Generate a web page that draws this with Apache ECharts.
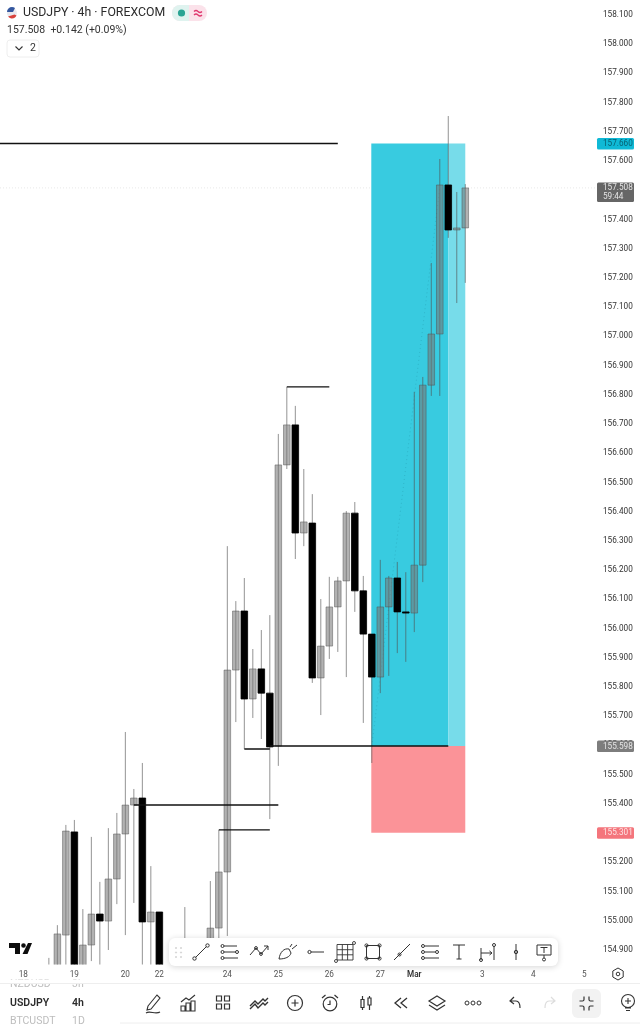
<!DOCTYPE html>
<html>
<head>
<meta charset="utf-8">
<style>html,body{margin:0;padding:0;background:#fff}#main{width:640px;height:1024px}</style>
<script src="https://cdn.jsdelivr.net/npm/echarts@6/dist/echarts.min.js"></script>
</head>
<body>
<div id="main"></div>
<script>
// date ticks, by slot on the time axis
var tickSlots = [3, 9, 15, 19, 27, 33, 39, 45, 49, 57, 63, 69]
var tickLabels = ['18', '19', '20', '22', '24', '25', '26', '27', 'Mar', '3', '4', '5']

// candles start at this slot, null = not visible in the picture
var firstSlot = 6
var opens = [154.70, 154.80, 154.951, 155.304, 154.80, 154.917, 155.023, 154.999, 155.143, 155.297, 155.396, 155.420, 154.996, 155.030, null, null, 154.60, null, null, 154.80, 154.975, 155.167, 155.858, 156.060, 155.759, 155.862, 155.779, 155.598, 156.560, 156.697, 156.327, 156.361, 155.831, 155.940, 156.074, 156.163, 156.395, 156.129, 155.981, 155.834, 156.074, 156.173, 156.057, 156.053, 156.217, 156.833, 157.008, 157.518, 157.364, 157.371]
var closes = [154.80, 154.955, 155.307, 154.80, 154.917, 155.023, 154.999, 155.143, 155.297, 155.396, 155.420, 154.996, 155.030, 154.70, null, null, 154.70, null, null, 154.975, 155.167, 155.858, 156.060, 155.759, 155.862, 155.779, 155.595, 156.560, 156.697, 156.327, 156.365, 155.831, 155.940, 156.074, 156.163, 156.395, 156.129, 155.981, 155.834, 156.074, 156.173, 156.057, 156.053, 156.217, 156.833, 157.008, 157.518, 157.364, 157.371, 157.508]
var highs = [154.873, 154.985, 155.328, 155.345, 155.040, 155.287, 155.133, 155.317, 155.369, 155.646, 155.451, 155.540, 155.187, 155.030, null, null, 155.047, null, null, 155.136, 155.311, 156.282, 156.094, 156.173, 155.930, 155.995, 156.046, 156.666, 156.827, 156.762, 156.546, 156.460, 156.101, 156.177, 156.177, 156.402, 156.433, 156.180, 155.981, 156.235, 156.180, 156.228, 156.193, 156.810, 156.861, 157.251, 157.607, 157.754, 157.494, 157.521]
var lows = [154.60, 154.70, 154.78, 154.70, 154.70, 154.862, 154.80, 154.900, 155.057, 154.951, 155.061, 154.70, 154.75, 154.60, null, null, 154.50, null, null, 154.70, 154.75, 154.948, 155.680, 155.588, 155.694, 155.622, 155.348, 155.530, 156.546, 156.238, 156.282, 155.814, 155.704, 155.896, 155.920, 155.834, 156.057, 155.677, 155.540, 155.779, 155.838, 155.916, 155.886, 155.988, 156.159, 156.796, 156.796, 157.337, 157.114, 157.183]

// horizontal levels drawn by hand on the chart
var levelPrices = [157.66, 156.827, 155.598, 155.588, 155.396, 155.311]
var levelFrom = [0, 34, 32, 29, 16, 26]
var levelTo = [40, 39, 53, 32, 33, 32]

// long position tool
var targetPrice = 157.66
var entryPrice = 155.598
var stopPrice = 155.301
var lastPrice = 157.508
var countdown = '59:44'
var boxSlots = [44, 53, 55]

var FONT = 'Roboto, "Noto Sans", sans-serif'
var candleData = []
opens.forEach(function (o, n) {
  if (o !== null) candleData.push([firstSlot + n, o, closes[n], highs[n], lows[n]])
})

function renderCandle(params, api) {
  var x = api.coord([api.value(0), 0])[0]
  var o = api.value(1), c = api.value(2)
  var top = api.coord([0, Math.max(o, c)])[1]
  var bot = api.coord([0, Math.min(o, c)])[1]
  var hi = api.coord([0, api.value(3)])[1]
  var lo = api.coord([0, api.value(4)])[1]
  // gray bodies are see-through over the box, black ones are not
  var bodyStyle = c >= o
    ? { fill: 'rgba(117,117,117,0.56)', stroke: 'rgba(80,80,80,0.6)', lineWidth: 0.8 }
    : { fill: '#000', stroke: '#000', lineWidth: 0.8 }
  return {
    type: 'group',
    children: [
      { type: 'line', shape: { x1: x, y1: hi, x2: x, y2: lo }, style: { stroke: 'rgba(80,80,80,0.62)', lineWidth: 1 } },
      { type: 'rect', shape: { x: x - 3.3, y: top, width: 6.6, height: Math.max(bot - top, 1) }, style: bodyStyle }
    ]
  }
}

function renderBox(params, api) {
  var x0 = api.coord([boxSlots[0], 0])[0] - 0.5
  var x1 = api.coord([boxSlots[1], 0])[0]
  var x2 = api.coord([boxSlots[2], 0])[0]
  var yT = api.coord([0, targetPrice])[1]
  var yE = api.coord([0, entryPrice])[1]
  var yS = api.coord([0, stopPrice])[1]
  return {
    type: 'group',
    children: [
      { type: 'rect', shape: { x: x0, y: yT, width: x1 - x0, height: yE - yT }, style: { fill: '#38cbe0' } },
      { type: 'rect', shape: { x: x1, y: yT, width: x2 - x1, height: yE - yT }, style: { fill: '#77dcea' } },
      { type: 'rect', shape: { x: x0, y: yE, width: x2 - x0, height: yS - yE }, style: { fill: '#fb9398' } }
    ]
  }
}

function renderLevel(params, api) {
  var a = api.coord([api.value(0), api.value(2)])
  var b = api.coord([api.value(1), api.value(2)])
  return { type: 'line', shape: { x1: a[0], y1: a[1], x2: b[0], y2: b[1] }, style: { stroke: '#111', lineWidth: 1.4 } }
}

// price tags sit right of the plot, on the axis
function tag(y, h, bg, color, txt, sub) {
  var kids = [{ type: 'rect', shape: { x: 597, y: y - 5.5, width: 37, height: h, r: 1.5 }, style: { fill: bg } }]
  kids.push({ type: 'text', style: { text: txt, x: 603, y: y + 0.5, fill: color, font: '8.2px ' + FONT, verticalAlign: 'middle' } })
  if (sub) kids.push({ type: 'text', style: { text: sub, x: 603, y: y + 9.5, fill: color, font: '8.2px ' + FONT, verticalAlign: 'middle' } })
  return { type: 'group', children: kids }
}
function renderTags(params, api) {
  var yOf = function (p) { return api.coord([0, p])[1] }
  return {
    type: 'group',
    children: [
      tag(yOf(targetPrice), 11.5, '#0fb9d6', '#085f70', targetPrice.toFixed(3)),
      tag(yOf(lastPrice), 19.5, '#666666', '#e4e4e4', lastPrice.toFixed(3), countdown),
      tag(yOf(entryPrice), 11.5, '#7d7d7d', '#e6e6e6', entryPrice.toFixed(3)),
      tag(yOf(stopPrice), 11.5, '#f4757c', '#fde3e4', stopPrice.toFixed(3))
    ]
  }
}

// ---- chrome around the chart ----
function circ(x, y, r) {
  return 'M' + (x - r) + ' ' + y + 'a' + r + ' ' + r + ' 0 1 0 ' + (2 * r) + ' 0a' + r + ' ' + r + ' 0 1 0 ' + (-2 * r) + ' 0'
}
function icon(cx, cy, d, color, width) {
  return { type: 'path', x: cx, y: cy, shape: { pathData: d }, style: { fill: 'none', stroke: color || '#333', lineWidth: width || 1 } }
}
function solid(d, color) {
  return { type: 'path', shape: { pathData: d }, style: { fill: color } }
}
function label(text, x, y, size, color, weight, align) {
  return { type: 'text', style: { text: text, x: x, y: y, fill: color, font: (weight || 'normal') + ' ' + size + 'px ' + FONT, verticalAlign: 'middle', align: align || 'left' } }
}
function box(x, y, w, h, r, fill, extra) {
  var style = { fill: fill }
  for (var k in extra) style[k] = extra[k]
  return { type: 'rect', shape: { x: x, y: y, width: w, height: h, r: r }, style: style }
}

var chrome = [
  // header
  { type: 'circle', shape: { cx: 12, cy: 13, r: 5 }, style: { fill: '#e9e9ef' } },
  solid('M7 12 a5 5 0 0 1 8 -4 l-2 4 z', '#34579f'),
  solid('M8 16.5 a5 5 0 0 0 8.5 -1 l-2 -1 z', '#d8423c'),
  label('USDJPY · 4h · FOREXCOM', 23, 13, 12.3, '#2b2b2b'),
  label('157.508  +0.142 (+0.09%)', 7, 30, 10.5, '#333'),
  box(172, 5, 35, 16, 8, '#fbe2ea'),
  solid('M180 5 h9 v16 h-9 a8 8 0 0 1 0 -16 z', '#dff3ef'),
  { type: 'circle', shape: { cx: 181.5, cy: 13, r: 3.6 }, style: { fill: '#2aa493' } },
  icon(198, 13, 'M-4 -1.5 q2 -2 4 0 t4 0 M-4 2 q2 -2 4 0 t4 0', '#e0386f', 1.3),
  box(7, 40, 32, 17, 3, '#fff', { stroke: '#eee', lineWidth: 1 }),
  icon(19, 48, 'M-3.5 -1.5 L0 2 L3.5 -1.5', '#333', 1.1),
  label('2', 30, 48.5, 10.5, '#333'),

  // TV logo
  solid('M9 943 H20 V954 H15 V948 H9 Z M28 943 H32 L27.5 954 H22.5 Z' + circ(23.5, 945.5, 2.3), '#0d0d0d'),

  // drawing toolbar
  box(169, 938, 389, 28, 6, '#fff', { shadowBlur: 6, shadowColor: 'rgba(0,0,0,0.16)', shadowOffsetY: 1 }),
  icon(176, 948, circ(0, 0, 0.6) + circ(5, 0, 0.6) + circ(0, 4.5, 0.6) + circ(5, 4.5, 0.6) + circ(0, 9, 0.6) + circ(5, 9, 0.6), '#ccc', 0.9),
  icon(201, 952, circ(-6.5, 6.5, 1.7) + circ(6.5, -6.5, 1.7) + 'M-5.3 5.3 L5.3 -5.3'),
  icon(229, 952, circ(-6.5, -6, 1.5) + 'M-5 -6 H8 ' + circ(-6.5, 0, 1.5) + circ(8, 0, 1.5) + 'M-5 0 H6.5 ' + circ(-6.5, 6, 1.5) + 'M-5 6 H9'),
  icon(259, 952, 'M-9 3 L-3 -4 L2 2 L9 -6 M5 -6 H9 V-2' + circ(-3, -4, 1.4) + circ(2, 2, 1.4)),
  icon(288, 952, 'M-9 7 C-8 0 -4 -4 1 -3 L3 1 C2 5 -3 7 -9 7 Z M4 -3 L9 -7 M2 -5 L4 -8'),
  icon(316, 952, circ(-6.5, 0, 1.6) + 'M-5 0 H8'),
  icon(344, 952, 'M-7 -7.5 H9 V8 H-7 Z M-1.7 -7.5 V8 M3.6 -7.5 V8 M-7 -2.3 H9 M-7 2.8 H9' + circ(10, -9, 1.5) + circ(-8, 9, 1.5), '#333', 0.9),
  icon(373, 952, 'M-6.5 -6.5 H6.5 V6.5 H-6.5 Z' + circ(-6.5, -6.5, 1.6) + circ(6.5, -6.5, 1.6) + circ(-6.5, 6.5, 1.6) + circ(6.5, 6.5, 1.6)),
  icon(402, 952, 'M-8 8 L8 -8' + circ(-2.5, 2.5, 1.5)),
  icon(430, 952, circ(-7, -6, 1.5) + 'M-5 -6 H9 ' + circ(-7, 0, 1.5) + circ(7, 0, 1.5) + 'M-5 0 H5 ' + circ(-7, 6, 1.5) + 'M-5 6 H9'),
  icon(459, 952, 'M-6 -7 H6 M0 -7 V7 M-2.5 7 H2.5', '#333', 1.1),
  icon(487, 952, 'M-6 -4 V8 M7 -6 V8 M-6 1 H5 M2.5 -1 L5 1 L2.5 3' + circ(7, -7, 1.5) + circ(-6, 8, 1.5)),
  icon(516, 952, 'M0 -8 V8' + circ(0, 0, 1.7)),
  icon(544, 952, 'M-7 -7 H7 V3 H-7 Z M-3.5 -4.5 H3.5 M0 -4.5 V1 M0 3 V6' + circ(0, 7.5, 1.5)),

  // axis settings
  icon(618, 974, 'M0 -6 L5.2 -3 V3 L0 6 L-5.2 3 V-3 Z' + circ(0, 0, 1.8)),

  // bottom bar
  label('NZDUSD', 10, 984.5, 10.5, '#bdbdbd'),
  label('3h', 72, 984.5, 10.5, '#bdbdbd'),
  box(0, 979.5, 120, 3.5, 0, '#fff'),
  { type: 'line', shape: { x1: 0, y1: 983.5, x2: 640, y2: 983.5 }, style: { stroke: '#eeeeee', lineWidth: 1 } },
  label('USDJPY', 10, 1003, 10.5, '#2b2b2b', '600'),
  label('4h', 72, 1003, 10.5, '#2b2b2b', '600'),
  label('BTCUSDT', 10, 1021.5, 10.5, '#bdbdbd'),
  label('1D', 72, 1021.5, 10.5, '#bdbdbd'),
  { type: 'line', shape: { x1: 120, y1: 1023, x2: 640, y2: 1023 }, style: { stroke: '#eeeeee', lineWidth: 1 } },
  icon(153, 1003, 'M-5 3 L4 -8 L7 -5 L-2 6 L-6 7 Z M-7 10 C-3 7 2 12 7 9', '#333', 1.1),
  icon(188, 1003, 'M-7 8 H-3 V3 H-7 Z M-2 8 H2 V0 H-2 Z M3 8 H7 V-2 H3 Z M-7 -1 L-2 -5 L1 -3 L7 -8', '#333', 1.1),
  icon(223, 1003, 'M-6.5 -7 H-1.5 V-2 H-6.5 Z M1.5 -7 H6.5 V-2 H1.5 Z M-6.5 1 H-1.5 V6 H-6.5 Z M1.5 1 H6.5 V6 H1.5 Z', '#333', 1.2),
  icon(259, 1003, 'M-9 3 L-4 -2 L-1 1 L4 -4 L6 -2 L9 -5 M-9 6 L-4 1 L-1 5 L4 0 L6 2 L9 -1', '#333', 1.4),
  icon(295, 1003, circ(0, 0, 7.5) + 'M-3.5 0 H3.5 M0 -3.5 V3.5', '#333', 1.2),
  icon(330, 1003, circ(0, 1, 6.8) + 'M0 -2.5 V1.5 H-2.5 M-8 -5 L-4.5 -8 M8 -5 L4.5 -8', '#333', 1.2),
  icon(366, 1003, 'M-5 -3.5 H-2 V4.5 H-5 Z M-3.5 -7 V-3.5 M-3.5 4.5 V7 M2 -5 H5 V2 H2 Z M3.5 -7 V-5 M3.5 2 V7', '#333', 1.2),
  icon(401, 1003, 'M0 -5 L-6 0 L0 5 M6 -5 L0 0 L6 5', '#333', 1.3),
  icon(437, 1003, 'M0 -7 L8 -2 L0 3 L-8 -2 Z M-8 2 L0 7 L8 2', '#333', 1.2),
  icon(473, 1003, circ(-6, 0, 2) + circ(0, 0, 2) + circ(6, 0, 2), '#333', 1),
  icon(515, 1003, 'M-1 -6 L-5 -2 L-1 1 M-5 -2 H1 C4 -2 5 1 5 5', '#333', 1.2),
  icon(550, 1003, 'M1 -6 L5 -2 L1 1 M5 -2 H-1 C-4 -2 -5 1 -5 5', '#dddddd', 1.2),
  box(572, 989, 29, 29, 6, '#f2f2f2'),
  icon(586.5, 1003.5, 'M-7 -2.5 H-4 C-3 -2.5 -2.5 -3 -2.5 -4 V-7 M7 -2.5 H4 C3 -2.5 2.5 -3 2.5 -4 V-7 M-7 2.5 H-4 C-3 2.5 -2.5 3 -2.5 4 V7 M7 2.5 H4 C3 2.5 2.5 3 2.5 4 V7', '#333', 1.2),
  icon(628, 1002, circ(0, -1, 6.5) + 'M-3 -1 H3 M0 -4 V2 M-3 6 H3 M-2 8.5 H2', '#333', 1.1)
]

var chart = echarts.init(document.getElementById('main'), null, { renderer: 'canvas' })
chart.setOption({
  animation: false,
  backgroundColor: '#fff',
  grid: { left: 0, right: 43, top: 0.3, height: 964.3 },
  xAxis: {
    type: 'value',
    min: 0.25,
    max: 70.5,
    axisLine: { show: false },
    axisTick: { show: false },
    splitLine: { show: false },
    axisLabel: {
      customValues: tickSlots,
      margin: 6,
      fontSize: 8.2,
      fontFamily: FONT,
      color: '#555',
      showMinLabel: true,
      showMaxLabel: true,
      formatter: function (v) {
        var s = tickLabels[tickSlots.indexOf(v)]
        return s === 'Mar' ? '{b|Mar}' : s
      },
      rich: { b: { fontSize: 8.2, fontFamily: FONT, fontWeight: 600, color: '#333' } }
    }
  },
  yAxis: {
    type: 'value',
    position: 'right',
    min: 154.85,
    max: 158.15,
    interval: 0.05,
    axisLine: { show: false },
    axisTick: { show: false },
    splitLine: { show: false },
    axisLabel: {
      margin: 6,
      fontSize: 8.2,
      fontFamily: FONT,
      color: '#333',
      padding: [4, 0, 0, 0],
      formatter: function (v) {
        return Math.round(v * 1000) % 100 === 0 ? v.toFixed(3) : ''
      }
    }
  },
  series: [
    {
      type: 'custom', z: 1, data: [[0, lastPrice]],
      renderItem: function (params, api) {
        var y = api.coord([0.25, lastPrice])[1]
        return { type: 'line', shape: { x1: 0, y1: y, x2: 597, y2: y }, style: { stroke: '#d9d9d9', lineWidth: 0.6, lineDash: [1, 2] } }
      }
    },
    { type: 'custom', z: 2, data: [[boxSlots[0], targetPrice]], renderItem: renderBox },
    {
      type: 'custom', z: 3, data: [[boxSlots[0], entryPrice]],
      renderItem: function (params, api) {
        var a = api.coord([boxSlots[0], entryPrice])
        var b = api.coord([firstSlot + 46, lastPrice])
        return { type: 'line', shape: { x1: a[0], y1: a[1], x2: b[0], y2: b[1] }, style: { stroke: 'rgba(30,130,150,0.45)', lineWidth: 0.7, lineDash: [1, 3] } }
      }
    },
    {
      type: 'custom', z: 4, clip: true,
      data: candleData,
      encode: { x: 0, y: [1, 2, 3, 4] },
      renderItem: renderCandle
    },
    {
      type: 'custom', z: 5, clip: true,
      data: levelPrices.map(function (p, n) { return [levelFrom[n], levelTo[n], p] }),
      encode: { x: [0, 1], y: 2 },
      renderItem: renderLevel
    },
    { type: 'custom', z: 6, clip: false, silent: true, data: [[0, lastPrice]], renderItem: renderTags },
    {
      type: 'custom', z: 20, clip: false, silent: true, data: [[0, lastPrice]],
      renderItem: function () { return { type: 'group', children: chrome } }
    }
  ]
})
</script>
</body>
</html>
